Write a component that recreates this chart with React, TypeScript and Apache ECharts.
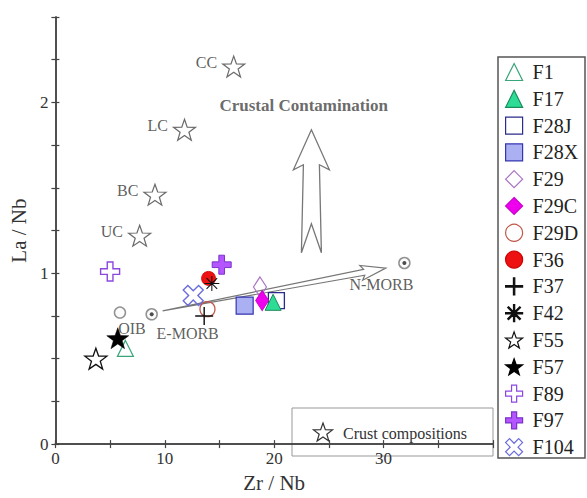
import React, { useEffect, useRef } from 'react';
import * as echarts from 'echarts';

// ---------- data ----------
const crustNames = ['CC', 'LC', 'BC', 'UC'];
const crustX = [16.3, 11.8, 9.1, 7.7];
const crustY = [2.21, 1.84, 1.46, 1.22];

const refNames = ['OIB', 'E-MORB', 'N-MORB'];
const refX = [5.9, 8.8, 31.9];
const refY = [0.77, 0.76, 1.06];

const sampleNames = ['F1', 'F17', 'F28J', 'F28X', 'F29', 'F29C', 'F29D', 'F36', 'F37', 'F42', 'F55', 'F57', 'F89', 'F97', 'F104'];
const sampleX = [6.4, 19.9, 20.2, 17.3, 18.7, 18.9, 13.9, 14.0, 13.6, 14.3, 3.7, 5.7, 5.0, 15.2, 12.6];
const sampleY = [0.56, 0.83, 0.84, 0.81, 0.92, 0.84, 0.79, 0.97, 0.75, 0.94, 0.50, 0.62, 1.01, 1.05, 0.87];

// arrows: [x0, y0, x1, y1] (tail -> tip)
const mixingArrow = [9.8, 0.78, 30.2, 1.03];
const contaminationArrow = [23.4, 1.12, 23.4, 1.84];
const contaminationText = 'Crustal Contamination';
const contaminationPos = [22.7, 1.98];

// ---------- symbol shapes ----------
const FONT = 'Liberation Serif';
const T = 'rgba(255,255,255,0)';

function starPts(cx: number, cy: number, R: number, r: number): number[][] {
  const pts: number[][] = [];
  for (let i = 0; i < 10; i++) {
    const rad = i % 2 === 0 ? R : r;
    const a = -Math.PI / 2 + (i * Math.PI) / 5;
    pts.push([cx + rad * Math.cos(a), cy + rad * Math.sin(a)]);
  }
  return pts;
}
function toPath(polys: number[][][]): string {
  return 'path://' + polys.map(p => 'M' + p.map(q => q[0].toFixed(2) + ',' + q[1].toFixed(2)).join('L') + 'Z').join(' ');
}
function rot(p: number[][], deg: number, cx = 10, cy = 10): number[][] {
  const a = (deg * Math.PI) / 180;
  return p.map(([x, y]) => [cx + (x - cx) * Math.cos(a) - (y - cy) * Math.sin(a), cy + (x - cx) * Math.sin(a) + (y - cy) * Math.cos(a)]);
}
const starSym = toPath([starPts(10, 10, 10, 4)]);
const fatPlusPoly = [[7, 0], [13, 0], [13, 7], [20, 7], [20, 13], [13, 13], [13, 20], [7, 20], [7, 13], [0, 13], [0, 7], [7, 7]];
const fatPlusSym = toPath([fatPlusPoly]);
const xSym = toPath([rot(fatPlusPoly, 45)]);
const thinPlusSym = 'path://M9.2,0H10.8V9.2H20V10.8H10.8V20H9.2V10.8H0V9.2H9.2Z';
const bar = [[0, 9.3], [20, 9.3], [20, 10.7], [0, 10.7]];
const asteriskSym = toPath([bar, rot(bar, 45), rot(bar, 90), rot(bar, 135)]);

const sampleStyles: any[] = [
  { symbol: 'triangle', size: 16, color: T, border: '#3aa57a', bw: 1.2 },
  { symbol: 'triangle', size: 16, color: '#2fdc96', border: '#1a8a5a', bw: 1 },
  { symbol: 'rect', size: 16, color: T, border: '#2b2b8c', bw: 1.3 },
  { symbol: 'rect', size: 17, color: '#aab0f2', border: '#3535b0', bw: 1.2 },
  { symbol: 'diamond', size: [13, 20], color: T, border: '#a874c4', bw: 1.2 },
  { symbol: 'diamond', size: [13, 20], color: '#ee00ee', border: '#cc00cc', bw: 1 },
  { symbol: 'circle', size: 15, color: T, border: '#c0584a', bw: 1.3 },
  { symbol: 'circle', size: 14, color: '#ee1111', border: '#cc0000', bw: 0.8 },
  { symbol: thinPlusSym, size: 18, color: '#111', border: '#111', bw: 0 },
  { symbol: asteriskSym, size: 15, color: '#111', border: '#111', bw: 0 },
  { symbol: starSym, size: 22, color: T, border: '#111', bw: 1.3 },
  { symbol: starSym, size: 22, color: '#000', border: '#000', bw: 0.5 },
  { symbol: fatPlusSym, size: 19, color: T, border: '#8a48e0', bw: 1.4 },
  { symbol: fatPlusSym, size: 19, color: '#b455ff', border: '#7a35c8', bw: 1 },
  { symbol: xSym, size: 20, color: T, border: '#6c6cdc', bw: 1.4 },
];

function arrowH(params: any, api: any) {
  const a = api.coord([api.value(0), api.value(1)]);
  const b = api.coord([api.value(2), api.value(3)]);
  const dx = b[0] - a[0], dy = b[1] - a[1];
  const L = Math.hypot(dx, dy);
  const ux = dx / L, uy = dy / L, nx = -uy, ny = ux;
  const P = (base: number[], al: number, pe: number) => [base[0] + ux * al + nx * pe, base[1] + uy * al + ny * pe];
  const points = [a, P(b, -22, 3), P(b, -25, 7.5), b, P(b, -25, -7.5), P(b, -22, -3)];
  return { type: 'polygon', shape: { points }, style: { fill: '#fff', stroke: '#777', lineWidth: 1.2 } };
}
function arrowV(params: any, api: any) {
  const a = api.coord([api.value(0), api.value(1)]);
  const b = api.coord([api.value(2), api.value(3)]);
  const dx = b[0] - a[0], dy = b[1] - a[1];
  const L = Math.hypot(dx, dy);
  const ux = dx / L, uy = dy / L, nx = -uy, ny = ux;
  const P = (base: number[], al: number, pe: number) => [base[0] + ux * al + nx * pe, base[1] + uy * al + ny * pe];
  const points = [b, P(b, -40, 18), P(b, -35, 8), P(a, 0, 10), P(a, 29, 0), P(a, 0, -10), P(b, -35, -8), P(b, -40, -18)];
  return { type: 'polygon', shape: { points }, style: { fill: '#fff', stroke: '#777', lineWidth: 1.3 } };
}

const labelOffsets = [[12, -3], [36, 0], [-23, 2]];

export default function App() {
  const ref = useRef<HTMLDivElement>(null);
  useEffect(() => {
    if (!ref.current) return;
    const chart = echarts.init(ref.current, undefined, { renderer: 'svg' });
    const axisLine = { show: true, lineStyle: { color: '#444', width: 1.5 } };
    const tick = { show: true, inside: true, length: 4, lineStyle: { color: '#444', width: 1.2 } };
    const sampleSeries = sampleNames.map((n, i) => {
      const s = sampleStyles[i];
      return {
        name: n,
        type: 'scatter',
        symbol: s.symbol,
        symbolSize: s.size,
        symbolKeepAspect: true,
        itemStyle: { color: s.color, borderColor: s.border, borderWidth: s.bw, opacity: 1 },
        data: [[sampleX[i], sampleY[i]]],
        z: 5 + (i === 1 ? 3 : 0),
      };
    });
    chart.setOption({
      animation: false,
      backgroundColor: '#fff',
      textStyle: { fontFamily: FONT },
      grid: { left: 52, right: 94, top: 17, bottom: 42 },
      xAxis: [
        {
          type: 'value', min: 0, max: 40, interval: 5, position: 'bottom',
          axisLine, axisTick: tick, splitLine: { show: false },
          axisLabel: { formatter: (v: number) => (v % 10 === 0 && v < 40 ? String(v) : ''), fontSize: 17, fontFamily: FONT, color: '#333', margin: 6 },
          name: 'Zr / Nb', nameLocation: 'middle', nameGap: 21,
          nameTextStyle: { fontSize: 21, fontFamily: FONT, color: '#333' },
        },
        {
          type: 'value', min: 0, max: 40, interval: 5, position: 'top',
          axisLine, axisTick: tick, splitLine: { show: false }, axisLabel: { show: false },
        },
      ],
      yAxis: [
        {
          type: 'value', min: 0, max: 2.5, interval: 0.25, position: 'left',
          axisLine, axisTick: tick, splitLine: { show: false },
          axisLabel: { formatter: (v: number) => (Number.isInteger(v) ? String(v) : ''), fontSize: 17, fontFamily: FONT, color: '#333', margin: 7 },
          name: 'La / Nb', nameLocation: 'middle', nameGap: 20,
          nameTextStyle: { fontSize: 21, fontFamily: FONT, color: '#333' },
        },
        {
          type: 'value', min: 0, max: 2.5, interval: 0.25, position: 'right',
          axisLine, axisTick: tick, splitLine: { show: false }, axisLabel: { show: false },
        },
      ],
      legend: {
        data: sampleNames,
        orient: 'vertical',
        left: 505,
        top: 62,
        itemWidth: 17,
        itemHeight: 17,
        itemGap: 6.8,
        padding: 0,
        itemStyle: { borderWidth: 1.2 },
        textStyle: { fontFamily: FONT, fontSize: 20, color: '#222' },
        formatter: (n: string) => ' ' + n,
        selectedMode: false,
      },
      graphic: [
        { type: 'rect', shape: { x: 498, y: 57, width: 87, height: 401 }, style: { fill: 'none', stroke: '#555', lineWidth: 1.5 } },
        { type: 'rect', shape: { x: 292, y: 408, width: 201, height: 48 }, style: { fill: 'none', stroke: '#999', lineWidth: 1 } },
        { type: 'polygon', shape: { points: starPts(323, 433, 10, 4) }, style: { fill: 'none', stroke: '#333', lineWidth: 1.2 } },
        { type: 'text', x: 343, y: 433, style: { text: 'Crust compositions', fontSize: 16, fontFamily: FONT, fill: '#333', align: 'left', verticalAlign: 'middle' } },
      ],
      series: [
        { type: 'custom', renderItem: arrowH, data: [mixingArrow], encode: { x: [0, 2], y: [1, 3] }, silent: true, z: 2 },
        { type: 'custom', renderItem: arrowV, data: [contaminationArrow], encode: { x: [0, 2], y: [1, 3] }, silent: true, z: 2 },
        {
          type: 'scatter', symbol: 'circle', symbolSize: 0.1, itemStyle: { color: T }, silent: true,
          data: [{ name: contaminationText, value: contaminationPos }],
          label: { show: true, position: 'inside', formatter: '{b}', fontFamily: FONT, fontSize: 17, fontWeight: 'bold', color: '#444' },
        },
        {
          type: 'scatter', symbol: starSym, symbolSize: 22, symbolKeepAspect: true,
          itemStyle: { color: T, borderColor: '#444', borderWidth: 1.2 },
          data: crustNames.map((n, i) => ({ name: n, value: [crustX[i], crustY[i]] })),
          label: { show: true, position: 'left', distance: 5, offset: [0, -4], formatter: '{b}', fontFamily: FONT, fontSize: 16, color: '#333' },
          z: 3,
        },
        {
          type: 'scatter', symbol: 'circle', symbolSize: 11,
          itemStyle: { color: '#fafafa', borderColor: '#777', borderWidth: 1.5 },
          data: refNames.map((n, i) => ({
            name: n, value: [refX[i], refY[i]],
            label: { show: true, position: 'bottom', offset: labelOffsets[i], formatter: '{b}', fontFamily: FONT, fontSize: 16, color: '#333' },
          })),
          z: 3,
        },
        {
          type: 'scatter', symbol: 'circle', symbolSize: 4, itemStyle: { color: '#222' }, silent: true,
          data: [[refX[1], refY[1]], [refX[2], refY[2]]], z: 4,
        },
        ...sampleSeries,
      ],
    });
    return () => chart.dispose();
  }, []);
  return <div ref={ref} style={{ position: 'fixed', left: 0, top: 0, width: 587, height: 498, background: '#fff' }} />;
}
